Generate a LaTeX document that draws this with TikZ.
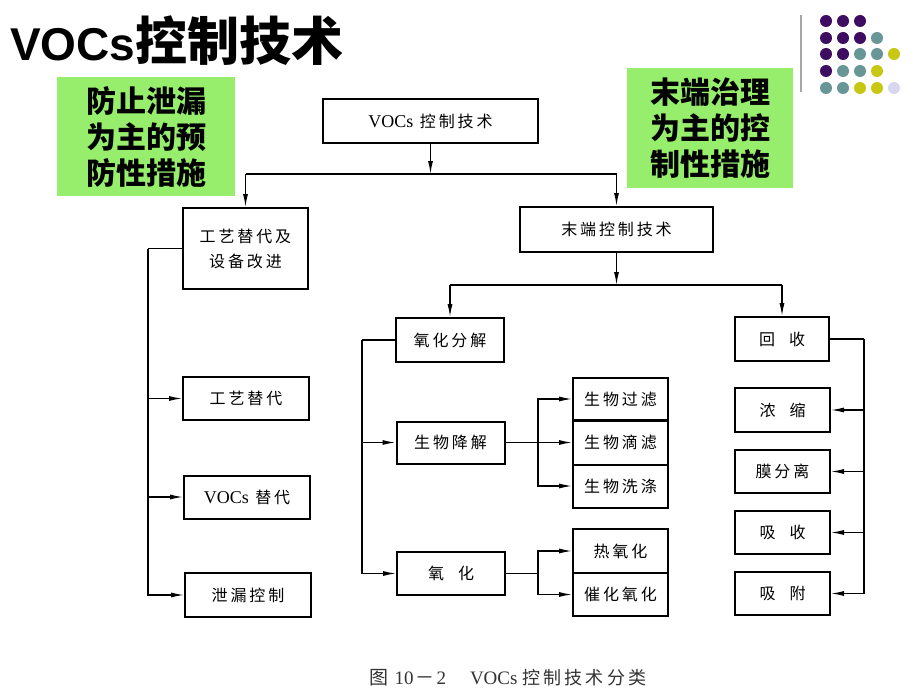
\documentclass[tikz,border=0pt]{standalone}
\usepackage{fontspec}
\setmainfont{Liberation Serif}
\setsansfont{Liberation Sans}
\newfontfamily\cjk{Noto Sans CJK SC}
\newfontfamily\cjkls[LetterSpace=18]{Noto Sans CJK SC}
\usetikzlibrary{arrows.meta}
\definecolor{panelgreen}{RGB}{150,238,108}
\definecolor{dpurple}{RGB}{62,12,96}
\definecolor{dteal}{RGB}{104,150,150}
\definecolor{dyellow}{RGB}{200,200,20}
\definecolor{dlav}{RGB}{215,215,240}
\begin{document}
\begin{tikzpicture}[x=1pt,y=-1pt,
  box/.style={draw, line width=2pt, inner sep=0pt, minimum height=43pt, font=\fontsize{16}{20}\selectfont\cjkls, align=center},
  conn/.style={line width=1.2pt},
  arr/.style={conn, -{Latex[length=13pt,width=5pt]}},
  greenbox/.style={fill=panelgreen, inner sep=0pt, font=\fontsize{30}{36}\selectfont\cjk\bfseries, align=center},
  dotp/.style={fill=dpurple}, dott/.style={fill=dteal}, doty/.style={fill=dyellow}, dotl/.style={fill=dlav}]
\useasboundingbox (0,0) rectangle (920,690);
\fill[white] (0,0) rectangle (920,690);

% title
\node[anchor=west, inner sep=0pt] (title) at (10,41) {\fontsize{46}{50}\selectfont\sffamily\bfseries VOCs\cjk\fontsize{52}{54}\selectfont 控制技术};

% decoration
\draw[line width=2pt, gray!70] (801,15) -- (801,92);
\foreach \x/\y/\s in {826/21/dotp,843/21/dotp,860/21/dotp,
  826/38/dotp,843/38/dotp,860/38/dotp,877/38/dott,
  826/54/dotp,843/54/dotp,860/54/dott,877/54/dott,894/54/doty,
  826/71/dotp,843/71/dott,860/71/dott,877/71/doty,
  826/88/dott,843/88/dott,860/88/doty,877/88/doty,894/88/dotl}
  \fill[\s] (\x,\y) circle (6pt);

% green panels
\node[greenbox, minimum width=178pt, minimum height=119pt] (gl) at (146,136.5) {防止泄漏\\为主的预\\防性措施};
\node[greenbox, minimum width=166pt, minimum height=120pt] (gr) at (710,128) {末端治理\\为主的控\\制性措施};

% boxes
\node[box, minimum width=215pt, minimum height=44pt] (top) at (430.5,121) {{\rmfamily\fontsize{18}{20}\selectfont VOCs} 控制技术};
\node[box, minimum width=125pt, minimum height=81pt, font=\fontsize{16}{25}\selectfont\cjkls] (L0) at (245.5,248.5) {工艺替代及\\设备改进};
\node[box, minimum width=126pt] (L1) at (246,398.5) {工艺替代};
\node[box, minimum width=126pt] (L2) at (247,497) {{\rmfamily\fontsize{18}{20}\selectfont VOCs} 替代};
\node[box, minimum width=126pt, minimum height=44pt] (L3) at (248,595) {泄漏控制};
\node[box, minimum width=193pt, minimum height=45pt] (end) at (616.5,229.5) {末端控制技术};
\node[box, minimum width=108pt, minimum height=44pt] (M0) at (450,340) {氧化分解};
\node[box, minimum width=108pt, minimum height=42pt] (M1) at (450.5,442.5) {生物降解};
\node[box, minimum width=108pt] (M2) at (451,573.5) {氧\hspace{14pt}化};
\node[box, minimum width=95pt, minimum height=42pt] (B1) at (620.5,399) {生物过滤};
\node[box, minimum width=95pt, minimum height=44pt] (B2) at (620.5,442.5) {生物滴滤};
\node[box, minimum width=95pt, minimum height=43pt] (B3) at (620.5,486) {生物洗涤};
\node[box, minimum width=95pt, minimum height=44pt] (O1) at (620.5,551) {热氧化};
\node[box, minimum width=95pt, minimum height=43pt] (O2) at (620.5,594.5) {催化氧化};
\node[box, minimum width=94pt, minimum height=44pt] (R0) at (782,339) {回\hspace{14pt}收};
\node[box, minimum width=95pt, minimum height=44pt] (R1) at (782.5,410) {浓\hspace{14pt}缩};
\node[box, minimum width=95pt, minimum height=43pt] (R2) at (782.5,471.5) {膜分离};
\node[box, minimum width=95pt, minimum height=43pt] (R3) at (782.5,532.5) {吸\hspace{14pt}收};
\node[box, minimum width=95pt, minimum height=43pt] (R4) at (782.5,593.5) {吸\hspace{14pt}附};

% caption
\node[inner sep=0pt, text=black!80, font=\fontsize{19}{22}\selectfont] (cap) at (508,678) {{\cjk 图}\hspace{6pt}10\hspace{2pt}{\cjk －}\hspace{2pt}2\hspace{24pt}VOCs {\cjkls\fontsize{18}{22}\selectfont 控制技术分类}};

% connectors: top level
\coordinate (j1) at (430.5,174);
\draw[arr] (top.south) -- (j1);
\draw[conn] (L0.north |- j1) -- (end.north |- j1);
\draw[arr] (L0.north |- j1) -- (L0.north);
\draw[arr] (end.north |- j1) -- (end.north);

% left branch
\coordinate (lx) at (148,248.5);
\draw[conn] (L0.west) -- (lx);
\draw[arr] (lx) |- (L3.west);
\draw[arr] (lx |- L1.west) -- (L1.west);
\draw[arr] (lx |- L2.west) -- (L2.west);

% end branch
\coordinate (j2) at (616.5,285);
\draw[arr] (end.south) -- (j2);
\draw[conn] (M0.north |- j2) -- (R0.north |- j2);
\draw[arr] (M0.north |- j2) -- (M0.north);
\draw[arr] (R0.north |- j2) -- (R0.north);

% oxidation decomposition branch
\coordinate (mx) at (362,340);
\draw[conn] (M0.west) -- (mx);
\draw[arr] (mx) |- (M2.west);
\draw[arr] (mx |- M1.west) -- (M1.west);

% bio branch
\coordinate (bx) at (538,442.5);
\draw[arr] (M1.east) -- (B2.west);
\draw[arr] (bx) |- (B1.west);
\draw[arr] (bx) |- (B3.west);

% oxidation branch
\coordinate (ox) at (538,573.5);
\draw[conn] (M2.east) -- (ox);
\draw[arr] (ox) |- (O1.west);
\draw[arr] (ox) |- (O2.west);

% recovery branch
\coordinate (rx) at (864,339);
\draw[conn] (R0.east) -- (rx);
\draw[arr] (rx) |- (R4.east);
\draw[arr] (rx |- R1.east) -- (R1.east);
\draw[arr] (rx |- R2.east) -- (R2.east);
\draw[arr] (rx |- R3.east) -- (R3.east);
\end{tikzpicture}
\end{document}
